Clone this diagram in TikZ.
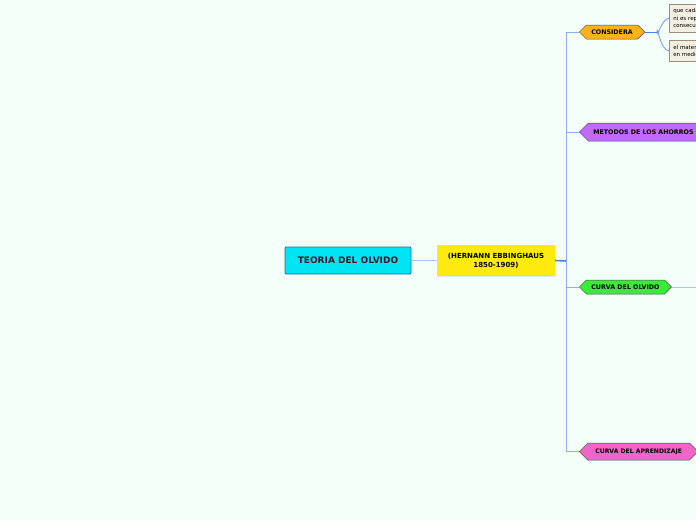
\documentclass[tikz,border=0pt]{standalone}
\usepackage{fontspec}
\setmainfont{DejaVu Sans}
\usetikzlibrary{shapes.symbols,shadows}
\definecolor{bgc}{HTML}{F5FFFA}
\definecolor{rootfill}{HTML}{00E5F3}
\definecolor{rootdraw}{HTML}{1F6F9E}
\definecolor{roottext}{HTML}{4A1028}
\definecolor{yel}{HTML}{FFEA0F}
\definecolor{orng}{HTML}{FFB31A}
\definecolor{purp}{HTML}{C06CF2}
\definecolor{grn}{HTML}{38EC38}
\definecolor{pnk}{HTML}{F066C8}
\definecolor{beige}{HTML}{F3EFE3}
\definecolor{beigedraw}{HTML}{9C8E7A}
\definecolor{lnA}{HTML}{A9C4F5}
\definecolor{lnB}{HTML}{4C7FF2}
\definecolor{lnC}{HTML}{8EAEF3}
\definecolor{lnD}{HTML}{6D98F0}
\tikzset{
  rootbox/.style={draw=rootdraw, fill=rootfill, line width=0.8pt, rounded corners=1pt,
    minimum width=126pt, minimum height=27pt, inner sep=0pt, text=roottext,
    font=\bfseries\fontsize{9}{10}\selectfont},
  yelbox/.style={fill=yel, minimum width=118pt, minimum height=31pt, inner sep=0pt,
    align=center, font=\bfseries\fontsize{7}{9}\selectfont,
    drop shadow={opacity=0.18, shadow xshift=1pt, shadow yshift=-1pt}},
  hexbox/.style={signal, signal to=west and east, signal pointer angle=90,
    draw=black!70, line width=0.5pt, inner xsep=5pt, inner ysep=0pt, anchor=west,
    font=\bfseries\fontsize{6.3}{7}\selectfont},
  notebox/.style={draw=beigedraw, fill=beige, line width=0.5pt, anchor=north west,
    text width=70pt, inner xsep=4pt, inner ysep=0pt, align=left,
    font=\fontsize{5.5}{7.5}\selectfont},
  trunkln/.style={draw=lnC, line width=0.9pt},
}
\begin{document}
\begin{tikzpicture}[x=1pt,y=-1pt]
\useasboundingbox (0,0) rectangle (696,520);
\fill[bgc] (0,0) rectangle (696,520);
\clip (0,0) rectangle (696,520);
% main nodes
\node[rootbox] (root) at (348,260.5) {TEORIA DEL OLVIDO};
\node[yelbox] (ebb) at (496,260.5) {(HERNANN EBBINGHAUS\\1850-1909)};
\coordinate (trunk) at (566,261);
% branch nodes
\node[hexbox, fill=orng, minimum height=14pt] (cons) at (579,32) {CONSIDERA};
\node[hexbox, fill=purp, minimum height=18pt] (met) at (579,132) {METODOS DE LOS AHORROS};
\node[hexbox, fill=grn, minimum height=14pt] (curo) at (579,287) {CURVA DEL OLVIDO};
\node[hexbox, fill=pnk, minimum height=17pt, inner xsep=7.5pt, font=\bfseries\fontsize{6.1}{7}\selectfont] (cura) at (579,451.5) {CURVA DEL APRENDIZAJE};
% notes
\node[notebox, minimum height=28pt] (n1) at (669,4) {que cada sílaba\\ni es repetida\\consecutivamente};
\node[notebox, minimum height=21pt] (n2) at (669,40) {el material\\en medida};
\coordinate (cj) at (657,32);
\coordinate (oe) at (700,287);
% connectors
\draw[lnA, line width=1.6pt] (root.east) -- (ebb.west);
\draw[lnB, line width=1.6pt] (ebb.east) -- (trunk);
\draw[trunkln] (trunk) |- (cons.west);
\draw[trunkln] (trunk) |- (met.west);
\draw[trunkln] (trunk) |- (curo.west);
\draw[trunkln] (trunk) |- (cura.west);
\draw[lnB, line width=1pt] (cons.east) -- (cj);
\draw[lnD, line width=0.8pt] (cj) to[out=-90,in=180] (n1.west);
\draw[lnD, line width=0.8pt] (cj) to[out=90,in=180] (n2.west);
\draw[lnA, line width=1pt] (curo.east) -- (oe);
\end{tikzpicture}
\end{document}
